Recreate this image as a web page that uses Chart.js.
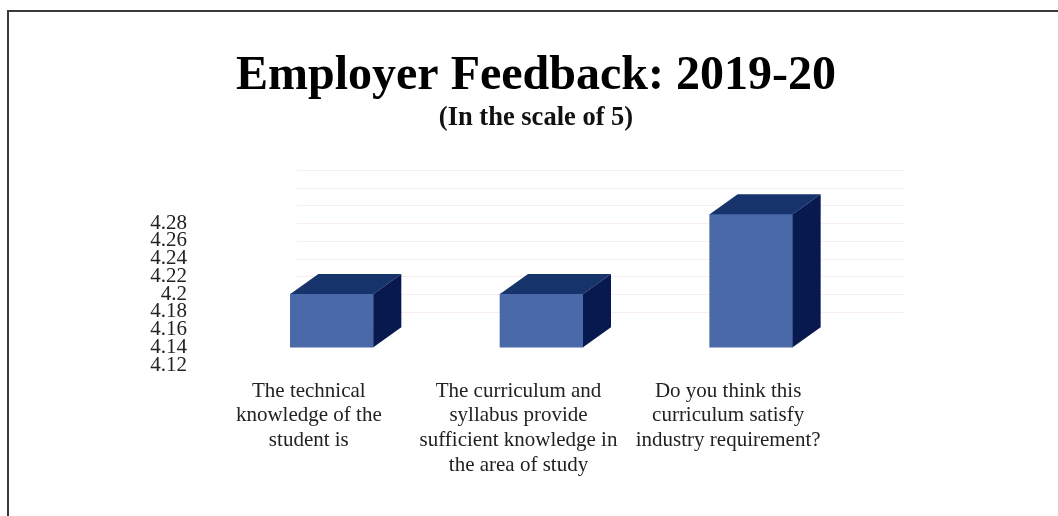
<!DOCTYPE html>
<html>
<head>
<meta charset="utf-8">
<title>Employer Feedback: 2019-20</title>
<script src="https://cdn.jsdelivr.net/npm/chart.js@4/dist/chart.umd.js"></script>
<style>
  html, body { margin: 0; padding: 0; background: #fff; overflow: hidden; }
  #wrap { position: relative; width: 1058px; height: 516px; }
  #frame { position: absolute; left: 7px; top: 10px; right: 0; bottom: 0; border-left: 2px solid #3a3a3a; border-top: 2px solid #3a3a3a; }
  canvas { position: absolute; left: 0; top: 0; }
</style>
</head>
<body>
<div id="wrap">
  <div id="frame"></div>
  <canvas id="chart1" width="1058" height="516"></canvas>
</div>
<script>
var categories = [
  ['The technical', 'knowledge of the', 'student is'],
  ['The curriculum and', 'syllabus provide', 'sufficient knowledge in', 'the area of study'],
  ['Do you think this', 'curriculum satisfy', 'industry requirement?']
];
var values = [4.2, 4.2, 4.29];
var barBase = 4.14;
var tickLabels = ['4.12', '4.14', '4.16', '4.18', '4.2', '4.22', '4.24', '4.26', '4.28'];
var serif = '"Liberation Serif", "Times New Roman", serif';

// side and top faces of the boxes, worked out from the bars chart.js laid out
var box3d = {
  id: 'box3d',
  beforeDatasetsDraw(chart) {
    var ctx = chart.ctx;
    var y = chart.scales.y;
    ctx.save();
    ctx.strokeStyle = 'rgba(238,205,210,0.35)';
    ctx.lineWidth = 1;
    y.ticks.forEach(function (t) {
      if (t.value < 4.17) return;
      var py = Math.round(y.getPixelForValue(t.value)) + 0.5;
      ctx.beginPath();
      ctx.moveTo(chart.chartArea.left + 70, py);
      ctx.lineTo(chart.chartArea.right + 48, py);
      ctx.stroke();
    });
    ctx.restore();
  },
  afterDatasetsDraw(chart) {
    var ctx = chart.ctx;
    var dx = 28, dy = 20;
    chart.getDatasetMeta(0).data.forEach(function (bar) {
      var l = bar.x - bar.width / 2, r = bar.x + bar.width / 2;
      ctx.fillStyle = '#17336c';
      ctx.beginPath();
      ctx.moveTo(l, bar.y);
      ctx.lineTo(l + dx, bar.y - dy);
      ctx.lineTo(r + dx, bar.y - dy);
      ctx.lineTo(r, bar.y);
      ctx.closePath();
      ctx.fill();
      ctx.fillStyle = '#08194f';
      ctx.beginPath();
      ctx.moveTo(r, bar.y);
      ctx.lineTo(r + dx, bar.y - dy);
      ctx.lineTo(r + dx, bar.base - dy);
      ctx.lineTo(r, bar.base);
      ctx.closePath();
      ctx.fill();
    });
  }
};

new Chart(document.querySelector('#chart1'), {
  type: 'bar',
  plugins: [box3d],
  data: {
    labels: categories,
    datasets: [{
      data: values,
      base: barBase,
      backgroundColor: '#4a69a8',
      barThickness: 83,
      borderWidth: 0
    }]
  },
  options: {
    responsive: false,
    animation: false,
    layout: { padding: { left: 14 } },
    plugins: {
      legend: { display: false },
      tooltip: { enabled: false },
      title: {
        display: true,
        text: 'Employer Feedback: 2019-20',
        color: '#000',
        font: { family: serif, size: 48, weight: 'bold', lineHeight: 1 },
        padding: { top: 53, bottom: 4 }
      },
      subtitle: {
        display: true,
        text: '(In the scale of 5)',
        color: '#111',
        font: { family: serif, size: 26.5, weight: 'bold', lineHeight: 1 },
        padding: { top: 0, bottom: 38.5 }
      }
    },
    scales: {
      x: {
        afterFit(scale) { scale.height = 151; },
        grid: { display: false },
        border: { display: false },
        ticks: {
          color: '#222',
          font: { family: serif, size: 21, lineHeight: 1.17 },
          labelOffset: -23,
          padding: 6,
          maxRotation: 0,
          autoSkip: false
        }
      },
      y: {
        min: 4.12,
        max: 4.34,
        afterFit(scale) { scale.width = 213; },
        grid: { display: false },
        border: { display: false },
        ticks: {
          stepSize: 0.02,
          autoSkip: false,
          color: '#222',
          font: { family: serif, size: 21, lineHeight: 1 },
          padding: 32,
          callback(value) {
            var s = String(+value.toFixed(2));
            return tickLabels.indexOf(s) >= 0 ? s : '';
          }
        }
      },
      yRight: {
        position: 'right',
        afterFit(scale) { scale.width = 202; },
        grid: { display: false },
        border: { display: false },
        ticks: { display: false }
      }
    }
  }
});
</script>
</body>
</html>
